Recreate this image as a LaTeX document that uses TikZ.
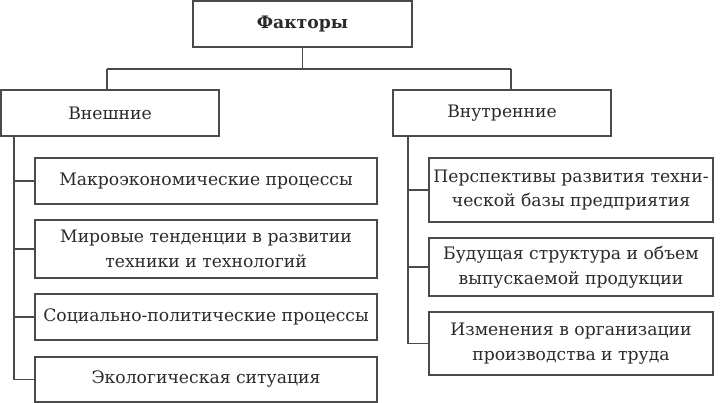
\documentclass[tikz,border=0pt]{standalone}
\usepackage{fontspec}
\setmainfont{DejaVu Serif}
\definecolor{linec}{HTML}{4A4A4A}
\definecolor{txt}{HTML}{2A2A2A}
\begin{document}
\begin{tikzpicture}[x=1pt,y=-1pt,
  box/.style={draw=linec, line width=1.3pt, inner sep=0pt, align=center, text=txt,
     font=\fontsize{17.2}{24.5}\selectfont},
  conn/.style={draw=linec, line width=1.3pt}]
\useasboundingbox (0,0) rectangle (721,403);
\node[box, minimum width=219pt, minimum height=46pt, font=\fontsize{17.2}{24.5}\selectfont\bfseries] (f) at (302.5,24) {Факторы};
\node[box, minimum width=218pt, minimum height=46pt] (ext) at (110,113) {Внешние};
\node[box, minimum width=218pt, minimum height=46pt] (int) at (502,113) {Внутренние};
\node[box, minimum width=342pt, minimum height=46pt] (l1) at (206,181) {Макроэкономические процессы};
\node[box, minimum width=342pt, minimum height=58pt] (l2) at (206,249) {Мировые тенденции в развитии\\техники и технологий};
\node[box, minimum width=342pt, minimum height=46pt] (l3) at (206,317) {Социально-политические процессы};
\node[box, minimum width=342pt, minimum height=45pt] (l4) at (206,379.5) {Экологическая ситуация};
\node[box, minimum width=284pt, minimum height=64pt] (r1) at (571,190) {Перспективы развития техни-\\ческой базы предприятия};
\node[box, minimum width=284pt, minimum height=58pt] (r2) at (571,267) {Будущая структура и объем\\выпускаемой продукции};
\node[box, minimum width=284pt, minimum height=63pt] (r3) at (571,343.5) {Изменения в организации\\производства и труда};
\coordinate (j) at (302.5,69);
\coordinate (bl) at (107,69);
\coordinate (br) at (511,69);
\coordinate (tl) at (14,0);
\coordinate (tr) at (408,0);
\draw[conn] (f.south) -- (j);
\draw[conn] (bl) -- (br);
\draw[conn] (bl) -- (bl |- ext.north);
\draw[conn] (br) -- (br |- int.north);
\draw[conn] (ext.south -| tl) |- (l4.west);
\foreach \n in {l1,l2,l3} \draw[conn] (\n.west -| tl) -- (\n.west);
\draw[conn] (int.south -| tr) |- (r3.west);
\foreach \n in {r1,r2} \draw[conn] (\n.west -| tr) -- (\n.west);
\end{tikzpicture}
\end{document}
